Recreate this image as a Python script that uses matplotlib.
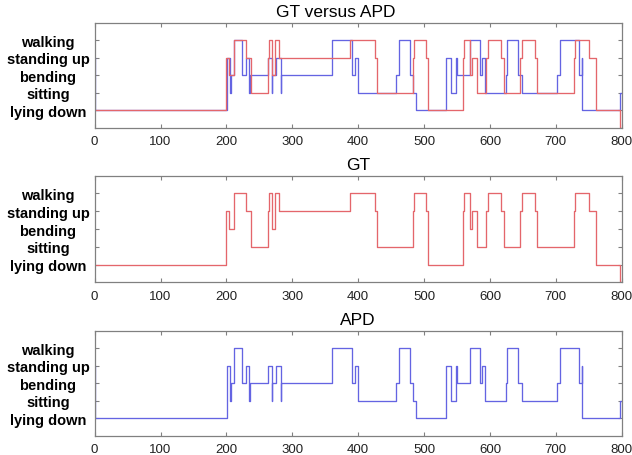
import matplotlib.pyplot as plt
import numpy as np

plt.rcParams['font.family'] = ['Liberation Sans', 'DejaVu Sans']

# activity levels: 1 = lying down ... 5 = walking
ACTIVITIES = ['lying down', 'sitting', 'bending', 'standing up', 'walking']
X_TICKS = [0, 100, 200, 300, 400, 500, 600, 700, 800]

# ground truth (change points, level after change)
gt_times = [0, 200, 204, 211.5, 229, 237, 263, 264, 268.6, 273.7, 279.7,
            387, 425, 428, 482.5, 484, 503, 506, 558.5, 561, 569.5, 573.5,
            580, 594.2, 596.5, 617.5, 620.7, 645.8, 648, 668.5, 672,
            727, 729.5, 751, 760.5, 797.5, 800]
gt_levels = [1, 4, 3, 5, 4, 2, 4, 5, 3, 5, 4,
             5, 4, 2, 4, 5, 4, 1, 4, 5, 3, 4,
             2, 4, 5, 4, 2, 4, 5, 4, 2,
             4, 5, 4, 1, 0, 0]

# APD output
apd_times = [0, 1, 201, 206, 207, 211.5, 223.6, 229.7, 234.8, 235.6,
             263.6, 268.6, 269.5, 275.2, 282.3, 283.2, 360, 391, 395.4,
             399.5, 457.5, 461.6, 478.3, 483.3, 488.4, 533, 541.4, 548.7,
             550.5, 569.3, 584.2, 588.6, 592.5, 625, 625.8, 643, 649,
             701.5, 706.5, 734.8, 739.4, 740, 797.5, 800]
apd_levels = [4, 1, 4, 2, 3, 5, 3, 4, 2, 3,
              4, 2, 3, 4, 2, 3, 5, 3, 4,
              2, 3, 5, 3, 2, 1, 4, 2, 4,
              3, 5, 3, 4, 2, 3, 5, 3, 2,
              3, 5, 3, 4, 1, 2, 2]

RED = '#e4666b'
BLUE = '#6464e2'


def style_axes(ax, title, title_x=0.5):
    ax.set_xlim(0, 800)
    ax.set_ylim(0, 6)
    ax.set_xticks(X_TICKS)
    ax.set_yticks(range(1, 6))
    ax.set_yticklabels(ACTIVITIES, fontweight='bold', fontsize=10.5, ha='center')
    ax.tick_params(axis='y', direction='in', pad=33.6, length=3, width=0.8,
                   color='#808080', right=True, labelcolor='black')
    ax.tick_params(axis='x', direction='in', pad=5.5, length=3, width=0.8,
                   color='#808080', top=True, labelsize=9.5, labelcolor='#222222')
    for s in ax.spines.values():
        s.set_color('#808080')
        s.set_linewidth(0.9)
    ax.set_title(title, fontsize=12.5, pad=5, x=title_x)


fig = plt.figure(figsize=(6.32, 4.56), dpi=100)

ax1 = fig.add_axes([0.1498, 0.7178, 0.8339, 0.230])
ax1.step(apd_times, apd_levels, where='post', color=BLUE, lw=0.95)
ax1.step(gt_times, gt_levels, where='post', color=RED, lw=0.95)
style_axes(ax1, 'GT versus APD', title_x=0.458)

ax2 = fig.add_axes([0.1498, 0.3787, 0.8339, 0.2338])
ax2.step(gt_times, gt_levels, where='post', color=RED, lw=0.95)
style_axes(ax2, 'GT')

ax3 = fig.add_axes([0.1498, 0.0423, 0.8339, 0.2303])
ax3.step(apd_times, apd_levels, where='post', color=BLUE, lw=0.95)
style_axes(ax3, 'APD')

fig.savefig('out.png', dpi=100)
